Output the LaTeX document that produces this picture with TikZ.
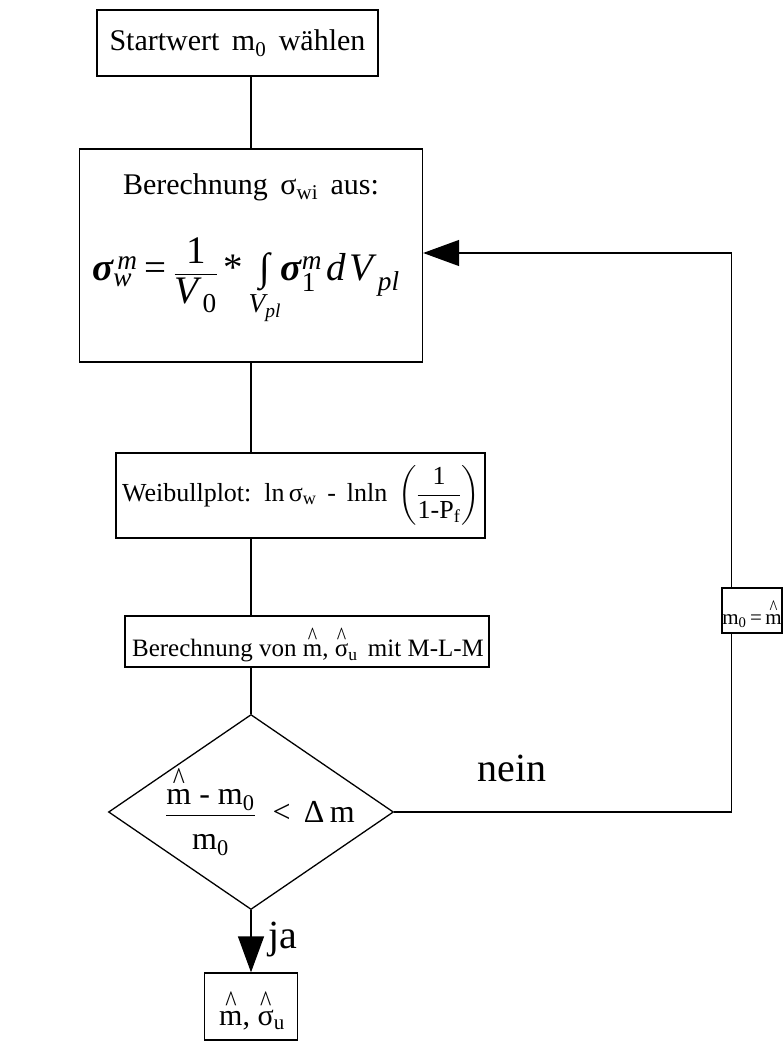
\documentclass[tikz,border=0pt]{standalone}
\usepackage{amsmath}
\usepackage{fontspec}
\setmainfont{Liberation Serif}
\usetikzlibrary{arrows.meta,shapes.geometric,calc}
\newcommand{\tx}[1]{\text{#1}}
\newcommand{\ti}[1]{\text{\itshape #1}}
\newcommand{\sig}{\text{σ}}
% letter with a tall caret centred above it
\newcommand{\hatt}[1]{\leavevmode\setbox0\hbox{#1}%
  \rlap{\hbox to\wd0{\hss\raisebox{0.48em}{\scalebox{0.8}[1]{\textasciicircum}}\hss}}\box0\relax}
\begin{document}
\begin{tikzpicture}[x=1pt,y=-1pt,line width=1.3pt,
  box/.style={draw,rectangle,inner sep=0pt},
  txt/.style={inner sep=0pt,font=\fontsize{30}{34}\selectfont},
  big/.style={inner sep=0pt,font=\fontsize{40}{44}\selectfont},
  arr/.style={-{Triangle[length=36pt,width=26pt]}}]
\useasboundingbox (0,0) rectangle (782,1059);

% process boxes
\node[box,minimum width=281pt,minimum height=66pt] (start) at (237.5,43) {};
\node[txt] (startt) at (start.center) {Startwert\, m$_{\tx{0}}$\, wählen};

\node[box,minimum width=343pt,minimum height=213pt] (calc) at (251,255.5) {};
\node[txt] (calct) at (251,187) {Berechnung\, $\sig_{\tx{wi}}$\, aus:};
\node[inner sep=0pt,font=\fontsize{39}{43}\selectfont] (calcf) at (246,281)
  {$\ti{\bfseries σ}^{\,\ti{m}}_{\ti{w}} \mathrel{\tx{=}} \dfrac{\tx{1}}{\ti{V}_{\,\tx{0}}}\mathbin{\tx{*}}
   \mathop{\tx{\itshape ∫}}\limits_{\ti{V}_{\ti{pl}}}\!\ti{\bfseries σ}^{\ti{m}}_{\tx{1}}\,\ti{d}\,\ti{V}_{\,\ti{pl}}$};

\node[box,minimum width=369pt,minimum height=85pt] (weib) at (300.5,495.5) {};
\node[inner sep=0pt,font=\fontsize{26}{30}\selectfont] (weibt) at (301,495)
  {Weibullplot:\, ln\,$\sig_{\tx{w}}$\, -\, lnln\, $\left(\dfrac{\tx{1}}{\tx{1-P}_{\tx{f}}}\right)$};

\node[box,minimum width=364pt,minimum height=51pt] (mlm) at (307,641.5) {};
\node[inner sep=0pt,font=\fontsize{25}{29}\selectfont] (mlmt) at (308,645)
  {Berechnung von \hatt{m}, $\text{\hatt{σ}}_{\tx{u}}$\, mit M-L-M};

% decision
\node[draw,diamond,inner sep=0pt,minimum width=285pt,minimum height=195pt] (dec) at (251,812) {};
\node[inner sep=0pt,font=\fontsize{32}{36}\selectfont] (dect) at (260,812)
  {$\dfrac{\tx{\hatt{m} - m}_{\tx{0}}\rule[-8pt]{0pt}{8pt}}{\rule{0pt}{30pt}\tx{m}_{\tx{0}}}$\; <\, Δ\,m};

% update box and result box
\node[box,minimum width=60pt,minimum height=45pt] (upd) at (752,610.5) {};
\node[inner sep=0pt,font=\fontsize{21}{25}\selectfont] (updt) at (752,614) {m$_{\tx{0}}$\,=\,\hatt{m}};

\node[box,minimum width=93pt,minimum height=67pt] (res) at (251,1006.5) {};
\node[txt] (rest) at (252,1011) {\hatt{m}, $\text{\hatt{σ}}_{\tx{u}}$};

% connectors
\coordinate (updin) at ([xshift=10pt]upd.south west);
\coordinate (updout) at ([xshift=10pt]upd.north west);
\draw (start.south -| calc.north) -- (calc.north);
\draw (calc.south) -- (calc.south |- weib.north);
\draw (calc.south |- weib.south) -- (calc.south |- mlm.north);
\draw (calc.south |- mlm.south) -- (dec.north);
\draw (dec.east) -- (dec.east -| updin) -- (updin);
\draw[arr] (updout) |- ([yshift=2.5pt]calc.east);
\draw[arr] (dec.south) -- (res.north);

% branch labels
\node[big] (nein) at (512,768) {nein};
\node[big] (ja) at (283,940) {ja};
\end{tikzpicture}
\end{document}
